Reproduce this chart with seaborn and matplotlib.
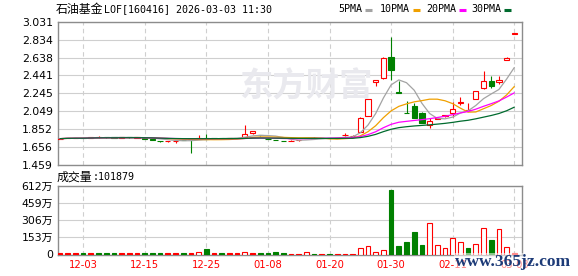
import numpy as np
import pandas as pd
import matplotlib
matplotlib.use("Agg")
import matplotlib.pyplot as plt
from matplotlib.lines import Line2D
import seaborn as sns

# ---------------- data ----------------
dates_ticks = ["12-03", "12-15", "12-25", "01-08", "01-20", "01-30", "02-11", "03-03"]
tick_idx = [3, 11, 19, 27, 35, 43, 51, 59]

opens = [1.745, 1.752, 1.752, 1.757, 1.758, 1.762, 1.764, 1.762, 1.758, 1.765,
         1.759, 1.758, 1.741, 1.724, 1.717, 1.718, 1.735, 1.744, 1.748, 1.752,
         1.754, 1.755, 1.752, 1.755, 1.770, 1.805, 1.788, 1.745, 1.734, 1.725,
         1.723, 1.729, 1.752, 1.760, 1.757, 1.757, 1.754, 1.784, 1.776, 1.824,
         2.000, 2.370, 2.410, 2.640, 2.262, 2.030, 2.106, 2.034, 1.894, 1.966,
         1.992, 2.024, 2.138, 2.058, 2.180, 2.307, 2.380, 2.366, 2.611, 2.900]
highs = [1.749, 1.757, 1.757, 1.758, 1.765, 1.772, 1.766, 1.764, 1.765, 1.767,
         1.763, 1.759, 1.742, 1.727, 1.721, 1.720, 1.738, 1.746, 1.791, 1.802,
         1.755, 1.756, 1.757, 1.760, 1.901, 1.831, 1.790, 1.747, 1.736, 1.727,
         1.729, 1.735, 1.760, 1.762, 1.760, 1.759, 1.758, 1.810, 1.786, 1.982,
         2.182, 2.395, 2.640, 2.866, 2.380, 2.158, 2.140, 2.045, 1.970, 1.982,
         2.008, 2.153, 2.200, 2.135, 2.273, 2.490, 2.435, 2.430, 2.640, 2.906]
lows = [1.743, 1.750, 1.750, 1.752, 1.756, 1.760, 1.759, 1.757, 1.756, 1.760,
        1.756, 1.745, 1.735, 1.712, 1.716, 1.704, 1.728, 1.594, 1.745, 1.741,
        1.753, 1.750, 1.751, 1.753, 1.768, 1.800, 1.780, 1.739, 1.728, 1.720,
        1.721, 1.727, 1.750, 1.755, 1.754, 1.752, 1.752, 1.782, 1.774, 1.820,
        1.995, 2.330, 2.405, 2.391, 2.250, 2.025, 1.975, 1.920, 1.870, 1.960,
        1.990, 1.990, 2.114, 2.055, 2.178, 2.290, 2.307, 2.350, 2.608, 2.898]
closes = [1.748, 1.755, 1.755, 1.754, 1.763, 1.765, 1.761, 1.759, 1.762, 1.762,
          1.761, 1.748, 1.737, 1.719, 1.720, 1.719, 1.731, 1.740, 1.750, 1.748,
          1.754, 1.752, 1.755, 1.758, 1.796, 1.829, 1.785, 1.741, 1.730, 1.722,
          1.726, 1.733, 1.758, 1.757, 1.756, 1.754, 1.756, 1.788, 1.782, 1.980,
          2.180, 2.391, 2.638, 2.501, 2.252, 2.027, 1.978, 1.923, 1.941, 1.980,
          2.006, 2.072, 2.146, 2.064, 2.271, 2.380, 2.330, 2.391, 2.636, 2.904]
volumes = [9, 9, 9, 9, 9, 9, 9, 9, 9, 9,
           9, 9, 9, 9, 9, 9, 9, 9, 18, 48,
           9, 9, 9, 9, 18, 9, 9, 9, 18, 9,
           8, 8, 18, 7, 7, 7, 7, 7, 8, 60,
           78, 18, 36, 573, 72, 108, 197, 81, 284, 87,
           60, 150, 108, 54, 96, 239, 134, 230, 69, 10.19]
vol_up = [1, 1, 1, 0, 1, 0, 0, 0, 1, 1,
          1, 0, 0, 0, 1, 1, 0, 1, 1, 0,
          1, 0, 1, 1, 1, 1, 0, 0, 0, 0,
          1, 1, 1, 0, 1, 0, 1, 1, 1, 1,
          1, 1, 1, 0, 0, 0, 0, 0, 1, 1,
          1, 1, 1, 0, 1, 1, 0, 1, 1, 1]
price_ticks = [1.459, 1.656, 1.852, 2.049, 2.245, 2.441, 2.638, 2.834, 3.031]
vol_ticks = [0, 153, 306, 459, 612]
vol_tick_labels = ["0", "153万", "306万", "459万", "612万"]
ma_periods = [5, 10, 20, 30]
ma_names = ["5PMA", "10PMA", "20PMA", "30PMA"]
ma_colors = ["#a3a3a3", "#f0a000", "#ff00ff", "#006b2e"]
title_cn = "石油基金"
title_rest = "LOF[160416] 2026-03-03 11:30"
vol_label_cn = "成交量"
vol_label_rest = ":101879"

# ---------------- style ----------------
sns.set_theme(style="white")
plt.rcParams["font.family"] = ["DejaVu Sans", "Noto Sans CJK SC"]
plt.rcParams["axes.unicode_minus"] = False

RED = "#ff0000"
GREEN = "#008000"
GRID = "#cfcfcf"
SPINE = "#8c8c8c"

W, H = 578, 276
fig = plt.figure(figsize=(W / 100, H / 100), dpi=100)
fig.patch.set_facecolor("white")


def fx(px):
    return px / W


def fy(py):
    return 1 - py / H


ax = fig.add_axes([fx(58), fy(165), (522 - 58) / W, (165 - 21.7) / H])
axv = fig.add_axes([fx(58), fy(254.5), (522 - 58) / W, (254.5 - 186) / H])

n = len(closes)
idx = np.arange(n)
df = pd.DataFrame({"i": idx, "open": opens, "high": highs, "low": lows,
                   "close": closes, "vol": volumes, "vup": vol_up})

XL = (-0.26, 60.0)

# watermark
fig.text(fx(306), fy(87), "东方财富", fontsize=24, fontweight="bold",
         color="#e9e9ee", ha="center", va="center",
         family=["Noto Sans CJK SC"], zorder=0)

# ---------------- candles ----------------
bw = 0.68
for r in df.itertuples():
    o, h, l, c = r.open, r.high, r.low, r.close
    if c > o:
        col = RED
    elif c < o:
        col = GREEN
    else:
        col = "black"
    ax.vlines(r.i, l, h, color=col, lw=0.8, zorder=2)
    bot = min(o, c)
    ht = max(abs(c - o), 0.003)
    face = "white" if (c > o and ht > 0.012) else col
    ax.bar(r.i, ht, bottom=bot, width=bw, color=face, edgecolor=col,
           linewidth=0.8, zorder=3)

# moving averages
ma_frames = []
for p, name in zip(ma_periods, ma_names):
    s = df["close"].rolling(p, min_periods=1).mean()
    ma_frames.append(pd.DataFrame({"i": idx, "value": s, "ma": name}))
ma_df = pd.concat(ma_frames, ignore_index=True)
sns.lineplot(data=ma_df, x="i", y="value", hue="ma", hue_order=ma_names,
             palette=dict(zip(ma_names, ma_colors)), legend=False, ax=ax,
             linewidth=0.9, zorder=4)

ax.set_xlim(*XL)
ax.set_ylim(price_ticks[0], price_ticks[-1])
ax.set_yticks(price_ticks)
ax.set_yticklabels([f"{t:.3f}" for t in price_ticks])
ax.set_xticks(tick_idx)
ax.set_xticklabels([])
ax.set_xlabel("")
ax.set_ylabel("")
ax.yaxis.grid(True, color=GRID, lw=0.8, ls="-")
ax.xaxis.grid(True, color=GRID, lw=0.8, ls=(0, (4, 3)))
ax.set_axisbelow(True)
ax.tick_params(axis="both", length=0, labelsize=7.8, pad=3.5, colors="black")
for s in ax.spines.values():
    s.set_color(SPINE)
    s.set_linewidth(1.0)
ax.patch.set_alpha(0)

# ---------------- volume ----------------
for r in df.itertuples():
    if r.vup:
        face = "white" if r.vol > 15 else RED
        axv.bar(r.i, r.vol, width=0.62, color=face, edgecolor=RED,
                linewidth=0.8, zorder=3)
    else:
        axv.bar(r.i, r.vol, width=0.62, color=GREEN, edgecolor=GREEN,
                linewidth=0.8, zorder=3)

axv.set_xlim(*XL)
axv.set_ylim(0, 612)
axv.set_yticks(vol_ticks)
axv.set_yticklabels(vol_tick_labels)
axv.set_xticks(tick_idx)
axv.set_xticklabels(dates_ticks, color=RED)
axv.yaxis.grid(True, color=GRID, lw=0.8, ls="-")
axv.xaxis.grid(True, color=GRID, lw=0.8, ls=(0, (4, 3)))
axv.set_axisbelow(True)
axv.tick_params(axis="y", length=0, labelsize=7.8, pad=3.5, colors="black")
axv.tick_params(axis="x", length=0, labelsize=7.2, pad=4, labelcolor=RED)
for s in axv.spines.values():
    s.set_color(SPINE)
    s.set_linewidth(1.0)

# ---------------- texts ----------------
fig.text(fx(56), fy(9), title_cn, fontsize=8.6, family=["Noto Sans CJK SC"],
         ha="left", va="center", color="black")
fig.text(fx(104), fy(9), title_rest, fontsize=7.2, family=["DejaVu Sans Mono"],
         ha="left", va="center", color="black")

leg_x = [338, 380, 426, 471]
for name, col, x0 in zip(ma_names, ma_colors, leg_x):
    t = fig.text(fx(x0), fy(9), name, fontsize=7.2, family=["DejaVu Sans Mono"],
                 ha="left", va="center", color="black")
    x1 = x0 + 6 * len(name) + 3
    fig.add_artist(Line2D([fx(x1), fx(x1 + 7)], [fy(9.5), fy(9.5)],
                          transform=fig.transFigure, color=col, lw=2.2,
                          solid_capstyle="butt"))

fig.text(fx(57), fy(177), vol_label_cn, fontsize=8.6, family=["Noto Sans CJK SC"],
         ha="left", va="center", color="black")
fig.text(fx(93), fy(177), vol_label_rest, fontsize=7.2, family=["DejaVu Sans Mono"],
         ha="left", va="center", color="black")

fig.text(fx(513), fy(262), "www.365jz.com", fontsize=12.5, fontweight="bold",
         family=["Liberation Serif"], color="#1d3b78", ha="center", va="center",
         bbox=dict(facecolor="white", alpha=0.55, edgecolor="none", pad=0.5))

fig.savefig("out.png", dpi=100)
